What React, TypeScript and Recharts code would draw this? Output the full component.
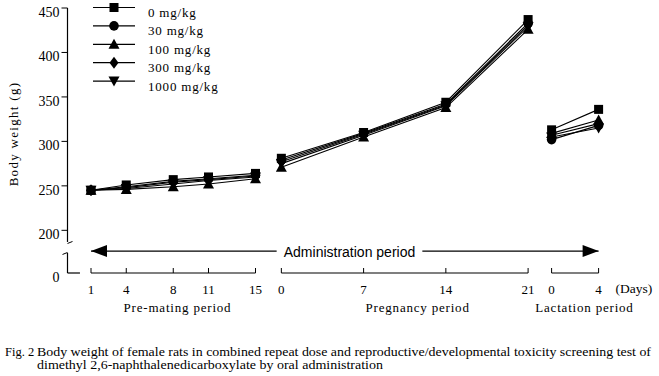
import React from 'react';
import { LineChart, Line, XAxis, YAxis, ReferenceLine, ReferenceDot, Legend } from 'recharts';

const SERIF = '"Liberation Serif", "DejaVu Serif", serif';
const SANS = '"Liberation Sans", Arial, sans-serif';

// ---- categories ----
const doseGroups = ['0 mg/kg', '30 mg/kg', '100 mg/kg', '300 mg/kg', '1000 mg/kg'];
const markerShapes = ['square', 'circle', 'triangle', 'diamond', 'invTriangle'];
const prematingDays = [1, 4, 8, 11, 15];
const pregnancyDays = [0, 7, 14, 21];
const lactationDays = [0, 4];
const periodNames = ['Pre-mating period', 'Pregnancy period', 'Lactation period'];
const periodCenterDays = [8.36, 11.6, 2.8];

// ---- series values (body weight, g), one row per dose group ----
const prematingWeights = [
  [245, 251, 257, 260, 264],
  [245, 249, 255, 258, 262],
  [245, 246, 249, 252, 258],
  [245, 248, 254, 257, 261],
  [245, 247, 252, 256, 260],
];
const pregnancyWeights = [
  [281, 310, 344, 437],
  [279, 309, 342, 433],
  [271, 305, 338, 426],
  [277, 308, 341, 431],
  [275, 307, 340, 429],
];
const lactationWeights = [
  [313, 336],
  [302, 318],
  [309, 324],
  [307, 320],
  [305, 315],
];

// ---- tick labels ----
const yTickValues = [0, 200, 250, 300, 350, 400, 450];
const adminLabel = 'Administration period';
const daysLabel = '(Days)';
const yAxisTitle = 'Body weight (g)';
const captionFig = 'Fig. 2';
const captionLine1 = 'Body weight of female rats in combined repeat dose and reproductive/developmental toxicity screening test of';
const captionLine2 = 'dimethyl 2,6-naphthalenedicarboxylate by oral administration';

// ---- layout constants ----
const PHASE_OFFSET = [0, 17.2, 40.2];
const X_DOMAIN: [number, number] = [-1, 46];
const Y_BASE = 152; // axis position where "0" is drawn below the break
const Y_TOP = 450;
const ARROW_Y = 176.7;

const phases = [
  { days: prematingDays, values: prematingWeights },
  { days: pregnancyDays, values: pregnancyWeights },
  { days: lactationDays, values: lactationWeights },
];

const chartData: any[] = [];
const xTicks: number[] = [];
const xTickLabel = new Map<number, string>();
phases.forEach((ph, p) => {
  if (p > 0) {
    const gap: any = { pos: PHASE_OFFSET[p] - 1 };
    doseGroups.forEach((_, s) => (gap['s' + s] = null));
    chartData.push(gap);
  }
  ph.days.forEach((d, i) => {
    const pos = PHASE_OFFSET[p] + d;
    const row: any = { pos };
    doseGroups.forEach((_, s) => (row['s' + s] = ph.values[s][i]));
    chartData.push(row);
    xTicks.push(pos);
    xTickLabel.set(pos, String(d));
  });
});
const lastTick = xTicks[xTicks.length - 1];
const periodTicks = periodCenterDays.map((c, p) => PHASE_OFFSET[p] + c);
const periodLabel = new Map<number, string>();
periodTicks.forEach((t, p) => periodLabel.set(t, periodNames[p]));
const yTicks = yTickValues.map((v) => (v === 0 ? Y_BASE : v));

function Marker({ shape, cx, cy }: { shape: string; cx: number; cy: number }) {
  switch (shape) {
    case 'square':
      return <rect x={cx - 4.5} y={cy - 4.5} width={9} height={9} fill="#000" />;
    case 'circle':
      return <circle cx={cx} cy={cy} r={4.8} fill="#000" />;
    case 'triangle':
      return <polygon points={`${cx},${cy - 5.5} ${cx + 5.5},${cy + 4.5} ${cx - 5.5},${cy + 4.5}`} fill="#000" />;
    case 'diamond':
      return <polygon points={`${cx},${cy - 6} ${cx + 4.5},${cy} ${cx},${cy + 6} ${cx - 4.5},${cy}`} fill="#000" />;
    default:
      return <polygon points={`${cx},${cy + 5.5} ${cx + 5.5},${cy - 4.5} ${cx - 5.5},${cy - 4.5}`} fill="#000" />;
  }
}

const makeDot = (shape: string) => (props: any) => {
  const { cx, cy, index } = props;
  if (cx == null || cy == null || Number.isNaN(cy) || props.value == null) return <g key={`${shape}-${index}`} />;
  return (
    <g key={`${shape}-${index}`}>
      <Marker shape={shape} cx={cx} cy={cy} />
    </g>
  );
};

const XTick = (props: any) => {
  const { x, y, payload } = props;
  const label = xTickLabel.get(payload.value);
  return (
    <g>
      <line x1={x} x2={x} y1={y - 5} y2={y} stroke="#000" strokeWidth={1} />
      <text x={x} y={y + 21} textAnchor="middle" fontSize={13} fontFamily={SERIF} fill="#000">
        {label}
      </text>
      {payload.value === lastTick && (
        <text x={x + 17} y={y + 20} fontSize={13.5} fontFamily={SERIF} fill="#000">
          {daysLabel}
        </text>
      )}
    </g>
  );
};

const PeriodTick = (props: any) => {
  const { x, y, payload } = props;
  return (
    <text x={x} y={y + 17} textAnchor="middle" fontSize={13} letterSpacing={0.8} fontFamily={SERIF} fill="#000">
      {periodLabel.get(payload.value)}
    </text>
  );
};

const YTick = (props: any) => {
  const { x, y, payload } = props;
  const isBase = payload.value === Y_BASE;
  return (
    <g>
      {!isBase && <line x1={x - 6} x2={x} y1={y} y2={y} stroke="#000" strokeWidth={1} />}
      <text x={x - 8} y={y + 9} textAnchor="end" fontSize={14} fontFamily={SERIF} fill="#000">
        {isBase ? '0' : String(payload.value)}
      </text>
    </g>
  );
};

const YTitle = () => (
  <text transform="translate(18,134) rotate(-90)" textAnchor="middle" fontSize={13} letterSpacing={1.3} fontFamily={SERIF} fill="#000">
    {yAxisTitle}
  </text>
);

const LegendBox = () => (
  <svg width={150} height={95} style={{ display: 'block' }}>
    {doseGroups.map((g, i) => {
      const cy = 7.5 + i * 18.4;
      return (
        <g key={g}>
          <line x1={3} x2={45} y1={cy} y2={cy} stroke="#000" strokeWidth={1.2} />
          <Marker shape={markerShapes[i]} cx={24} cy={cy} />
          <text x={58} y={cy + 9.5} fontSize={13} letterSpacing={0.8} fontFamily={SERIF} fill="#000">
            {g}
          </text>
        </g>
      );
    })}
  </svg>
);

const LeftArrow = (p: any) => (
  <polygon points={`${p.cx},${p.cy} ${p.cx + 16},${p.cy - 6} ${p.cx + 16},${p.cy + 6}`} fill="#000" />
);
const RightArrow = (p: any) => (
  <polygon points={`${p.cx},${p.cy} ${p.cx - 16},${p.cy - 6} ${p.cx - 16},${p.cy + 6}`} fill="#000" />
);
const AdminText = (p: any) => (
  <text x={p.cx} y={p.cy + 6} textAnchor="middle" fontSize={14} fontFamily={SANS} fill="#000">
    {adminLabel}
  </text>
);
const BreakMarks = (p: any) => (
  <g stroke="#000" strokeWidth={1}>
    <line x1={p.cx} y1={p.cy - 4} x2={p.cx + 5} y2={p.cy - 6} />
    <line x1={p.cx - 5} y1={p.cy + 7} x2={p.cx} y2={p.cy + 5} />
  </g>
);

export default function App() {
  return (
    <div style={{ position: 'absolute', left: 0, top: 0, width: 659, height: 376, background: '#fff' }}>
      <LineChart
        width={659}
        height={330}
        data={chartData}
        margin={{ top: 8, right: 39.25, left: 7.5, bottom: 15 }}
      >
        <XAxis
          dataKey="pos"
          type="number"
          domain={X_DOMAIN}
          allowDataOverflow
          ticks={xTicks}
          interval={0}
          height={22}
          axisLine={false}
          tickLine={false}
          tickSize={0}
          tickMargin={0}
          tick={<XTick />}
        />
        <XAxis
          xAxisId="period"
          dataKey="pos"
          type="number"
          domain={X_DOMAIN}
          allowDataOverflow
          ticks={periodTicks}
          interval={0}
          height={20}
          axisLine={false}
          tickLine={false}
          tickSize={0}
          tickMargin={0}
          tick={<PeriodTick />}
        />
        <YAxis
          type="number"
          domain={[Y_BASE, Y_TOP]}
          allowDataOverflow
          ticks={yTicks}
          interval={0}
          width={60}
          axisLine={false}
          tickLine={false}
          tickSize={0}
          tickMargin={0}
          tick={<YTick />}
          label={YTitle}
        />
        {/* broken y axis line */}
        <ReferenceLine segment={[{ x: X_DOMAIN[0], y: Y_TOP }, { x: X_DOMAIN[0], y: 186.9 }]} stroke="#000" strokeWidth={1.2} />
        <ReferenceLine segment={[{ x: X_DOMAIN[0], y: 174.5 }, { x: X_DOMAIN[0], y: Y_BASE }]} stroke="#000" strokeWidth={1.2} />
        <ReferenceLine segment={[{ x: X_DOMAIN[0], y: Y_BASE }, { x: 0.06, y: Y_BASE }]} stroke="#000" strokeWidth={1.2} />
        <ReferenceDot x={X_DOMAIN[0]} y={180.7} r={1} ifOverflow="visible" shape={BreakMarks} />
        {/* period brackets */}
        {phases.map((ph, p) => (
          <ReferenceLine
            key={p}
            segment={[
              { x: PHASE_OFFSET[p] + ph.days[0], y: Y_BASE },
              { x: PHASE_OFFSET[p] + ph.days[ph.days.length - 1], y: Y_BASE },
            ]}
            stroke="#000"
            strokeWidth={1.2}
          />
        ))}
        {/* administration period arrow */}
        <ReferenceLine segment={[{ x: 1, y: ARROW_Y }, { x: 16.8, y: ARROW_Y }]} stroke="#000" strokeWidth={1.2} />
        <ReferenceLine segment={[{ x: 29.2, y: ARROW_Y }, { x: lastTick, y: ARROW_Y }]} stroke="#000" strokeWidth={1.2} />
        <ReferenceDot x={1} y={ARROW_Y} r={1} shape={LeftArrow} />
        <ReferenceDot x={lastTick} y={ARROW_Y} r={1} shape={RightArrow} />
        <ReferenceDot x={23.0} y={ARROW_Y} r={1} shape={AdminText} />
        {doseGroups.map((g, s) => (
          <Line
            key={g}
            name={g}
            dataKey={'s' + s}
            stroke="#000"
            strokeWidth={1.1}
            connectNulls={false}
            isAnimationActive={false}
            dot={makeDot(markerShapes[s])}
            activeDot={false}
          />
        ))}
        <Legend
          layout="vertical"
          align="center"
          verticalAlign="middle"
          content={() => <LegendBox />}
          wrapperStyle={{ position: 'absolute', top: 0, left: 90, width: 150, height: 95 }}
        />
      </LineChart>
      <svg width={659} height={46} style={{ position: 'absolute', left: 0, top: 330 }}>
        <text x={5} y={26} fontSize={12.5} fontFamily={SERIF} fill="#000">
          {captionFig}
        </text>
        <text x={37} y={26} fontSize={12.5} fontFamily={SERIF} fill="#000" textLength={614} lengthAdjust="spacingAndGlyphs">
          {captionLine1}
        </text>
        <text x={37} y={39} fontSize={12.5} fontFamily={SERIF} fill="#000" textLength={346} lengthAdjust="spacingAndGlyphs">
          {captionLine2}
        </text>
      </svg>
    </div>
  );
}
